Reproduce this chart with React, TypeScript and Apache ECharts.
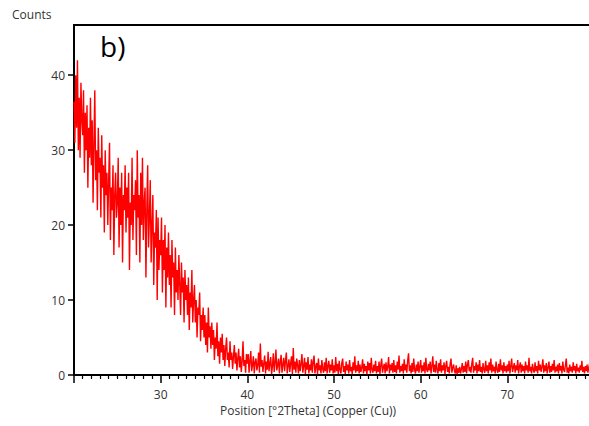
import React, { useEffect, useRef } from "react";
import * as echarts from "echarts";

// 2Theta scan: start angle and step (degrees)
const startAngle = 20.0;
const stepSize = 0.1;

// Counts in 10-degree segments (0.1 deg per value)
const counts20to30 = [
  36.5, 31, 40, 33, 42, 30, 37, 29, 39, 34,
  32, 38, 27, 35, 30, 36, 25, 33, 29, 37,
  28, 34, 23, 31, 38, 26, 30, 22, 33, 27,
  29, 21, 32, 25, 28, 19, 30, 24, 27, 20,
  26, 31, 18, 25, 22, 28, 16, 24, 27, 21,
  23, 29, 17, 25, 20, 27, 15, 24, 22, 28,
  19, 25, 21, 27, 14, 23, 20, 29, 18, 24,
  22, 26, 16, 30, 21, 24, 15, 27, 20, 29,
  18, 23, 25, 13, 22, 28, 17, 21, 26, 15,
  20, 24, 12, 19, 17, 22, 10, 21, 14, 18,
];
const counts30to40 = [
  16, 21, 11, 18, 14, 20, 9, 17, 13, 19,
  12, 16, 9, 18, 13, 15, 8, 17, 11, 14,
  10, 16, 12, 8, 15, 11, 13, 7, 14, 10,
  12, 8, 13, 6, 11, 9, 14, 7, 10, 12,
  7, 10, 5, 9, 8, 11, 4.5, 8, 6, 9,
  5, 8, 4, 7, 3, 9, 5, 6.5, 3.5, 7,
  4, 6, 2, 5, 3.5, 7, 2.5, 4.5, 1.5, 5,
  3, 5.5, 2, 4, 1.2, 3.5, 5, 2, 3, 1,
  4.5, 2, 3, 0.8, 2.5, 4, 1.5, 3, 0.6, 2.2,
  3.5, 1, 2.5, 0.4, 1.8, 4.5, 1.2, 2, 0.3, 2.8,
];
const counts40to50 = [
  1.5, 2.8, 0.3, 1.9, 3.2, 0.5, 1.4, 2.5, 0.2, 1.7,
  2.2, 0.6, 1.3, 3.0, 0.3, 4.2, 1.1, 2.0, 0.4, 1.6,
  2.6, 0.2, 1.8, 0.7, 3.1, 0.5, 1.5, 2.4, 0.1, 1.2,
  2.9, 0.4, 1.6, 3.4, 0.6, 1.3, 2.2, 0.2, 1.8, 2.7,
  0.3, 1.4, 2.3, 0.5, 1.9, 3.0, 0.2, 1.2, 2.1, 0.4,
  1.6, 2.5, 0.1, 3.6, 0.7, 1.8, 0.3, 2.2, 1.3, 0.2,
  2.0, 0.5, 1.5, 2.8, 0.3, 1.2, 2.3, 0.1, 1.7, 0.7,
  2.4, 0.2, 1.4, 0.6, 2.1, 0.3, 1.8, 2.6, 0.2, 1.1,
  1.6, 0.1, 2.2, 0.6, 1.3, 0.2, 2.0, 0.8, 0.3, 1.7,
  0.5, 2.3, 0.2, 1.2, 1.9, 0.3, 1.4, 0.6, 2.1, 0.2,
];
const counts50to60 = [
  1.3, 0.3, 2.4, 0.5, 1.5, 0.1, 1.9, 0.7, 0.2, 1.6,
  2.2, 0.4, 1.2, 0.1, 1.8, 0.6, 1.4, 0.2, 2.0, 0.5,
  1.1, 0.1, 1.7, 0.6, 2.5, 0.3, 1.3, 0.5, 1.9, 0.2,
  1.4, 0.4, 1.0, 2.1, 0.2, 1.5, 0.5, 1.2, 0.1, 1.8,
  0.6, 1.6, 0.2, 2.3, 0.7, 0.3, 1.4, 0.5, 1.9, 0.2,
  1.2, 0.4, 1.8, 0.1, 1.3, 2.2, 0.3, 1.0, 1.5, 0.2,
  1.7, 0.5, 1.1, 2.4, 0.2, 1.4, 0.6, 1.6, 0.3, 2.0,
  0.4, 1.3, 0.2, 1.8, 0.7, 2.6, 0.3, 1.2, 0.5, 1.5,
  0.2, 2.1, 0.6, 1.4, 0.3, 1.9, 2.9, 0.5, 1.3, 0.2,
  1.6, 0.4, 2.2, 0.7, 0.2, 1.4, 0.5, 1.8, 0.3, 1.1,
];
const counts60to70 = [
  2.0, 0.3, 1.3, 0.5, 1.7, 0.2, 2.3, 0.7, 0.4, 1.5,
  0.6, 1.8, 0.2, 1.2, 2.5, 0.4, 1.4, 0.3, 1.9, 0.7,
  0.2, 1.6, 0.5, 2.1, 0.3, 1.3, 0.6, 1.7, 0.1, 1.2,
  1.9, 0.4, 1.1, 0.2, 1.5, 2.2, 0.3, 1.0, 1.4, 0.5,
  0.2, 1.3, 0.1, 0.9, 0.3, 1.1, 0.2, 0.8, 1.6, 0.3,
  1.2, 0.4, 1.8, 0.2, 1.4, 2.0, 0.5, 1.1, 0.3, 1.5,
  2.3, 0.3, 1.2, 0.6, 1.7, 0.2, 1.4, 0.5, 2.0, 0.4,
  1.1, 0.2, 1.6, 0.7, 0.3, 1.9, 0.5, 1.3, 0.2, 1.7,
  0.6, 2.2, 0.3, 1.4, 0.5, 1.1, 0.2, 1.8, 0.7, 0.3,
  1.5, 0.4, 2.1, 0.6, 1.3, 0.2, 1.7, 0.5, 1.2, 0.3,
];
const counts70to80 = [
  1.4, 0.5, 1.9, 0.2, 1.2, 2.2, 0.4, 1.0, 1.6, 0.3,
  1.3, 0.6, 2.0, 0.2, 1.1, 1.7, 0.3, 1.4, 0.5, 1.2,
  0.2, 1.8, 0.6, 1.3, 0.3, 2.3, 0.5, 1.1, 0.2, 1.5,
  0.7, 0.3, 1.7, 0.5, 1.2, 0.2, 1.9, 0.6, 1.4, 0.4,
  1.1, 2.1, 0.3, 1.3, 0.5, 1.6, 0.2, 1.0, 1.8, 0.3,
  1.2, 0.4, 1.5, 0.6, 2.0, 0.3, 1.1, 0.5, 1.4, 0.2,
  1.6, 0.6, 1.2, 0.2, 1.8, 0.7, 0.4, 1.3, 2.2, 0.3,
  1.0, 0.2, 1.4, 0.5, 1.1, 0.3, 1.7, 0.6, 1.2, 0.2,
  1.5, 0.5, 1.0, 0.3, 1.3, 0.6, 1.9, 0.4, 1.1, 0.2,
  1.2, 0.5, 1.4, 0.3, 1.0, 1.6, 0.4, 1.1, 0.6, 1.3,
  0.8,
];

const xTickLabels = [30, 40, 50, 60, 70];
const yTickLabels = [0, 10, 20, 30, 40];

const FONT = "'Open Sans', 'Noto Sans', sans-serif";

export default function App() {
  const ref = useRef<HTMLDivElement>(null);
  useEffect(() => {
    document.body.style.overflow = "hidden";
    if (!ref.current) return;
    const chart = echarts.init(ref.current, undefined, { renderer: "svg" });
    const allCounts = [
      ...counts20to30,
      ...counts30to40,
      ...counts40to50,
      ...counts50to60,
      ...counts60to70,
      ...counts70to80,
    ];
    const data = allCounts.map((c, i) => [
      Math.round((startAngle + i * stepSize) * 100) / 100,
      c,
    ]);
    chart.setOption({
      animation: false,
      backgroundColor: "#ffffff",
      grid: {
        left: 74,
        right: 1,
        top: 25,
        bottom: 51,
        show: true,
        borderColor: "#000",
        borderWidth: 2,
        backgroundColor: "transparent",
      },
      xAxis: {
        type: "value",
        min: 20,
        max: 80,
        interval: 10,
        axisLine: { show: true, lineStyle: { color: "#000", width: 2 } },
        axisTick: {
          show: true,
          inside: false,
          length: 8,
          lineStyle: { color: "#000", width: 1.5 },
        },
        minorTick: {
          show: true,
          splitNumber: 10,
          length: 4,
          lineStyle: { color: "#000", width: 1.2 },
        },
        axisLabel: {
          customValues: xTickLabels,
          margin: 13,
          color: "#333",
          fontSize: 12,
          fontFamily: FONT,
        },
        splitLine: { show: false },
        minorSplitLine: { show: false },
      },
      yAxis: {
        type: "value",
        min: 0,
        max: 46.7,
        interval: 10,
        axisLine: { show: true, lineStyle: { color: "#000", width: 2 } },
        axisTick: {
          show: true,
          customValues: yTickLabels,
          length: 6,
          lineStyle: { color: "#000", width: 1.5 },
        },
        axisLabel: {
          customValues: yTickLabels,
          margin: 9,
          color: "#333",
          fontSize: 12,
          fontFamily: FONT,
        },
        splitLine: { show: false },
      },
      graphic: [
        {
          type: "text",
          left: 12,
          top: 8,
          style: { text: "Counts", fontSize: 12, fontFamily: FONT, fill: "#333" },
        },
        {
          type: "text",
          left: 100,
          top: 32,
          style: { text: "b)", fontSize: 28, fontFamily: FONT, fill: "#000" },
        },
        {
          type: "text",
          left: 220,
          top: 404,
          style: {
            text: "Position [°2Theta] (Copper (Cu))",
            fontSize: 12,
            fontFamily: FONT,
            fill: "#333",
          },
        },
      ],
      series: [
        {
          type: "line",
          data,
          showSymbol: false,
          symbol: "none",
          lineStyle: { color: "#ff0000", width: 1.4 },
          z: 1,
        },
      ],
    });
    return () => chart.dispose();
  }, []);
  return (
    <div
      ref={ref}
      style={{ position: "fixed", left: 0, top: 0, width: 595, height: 426 }}
    />
  );
}
